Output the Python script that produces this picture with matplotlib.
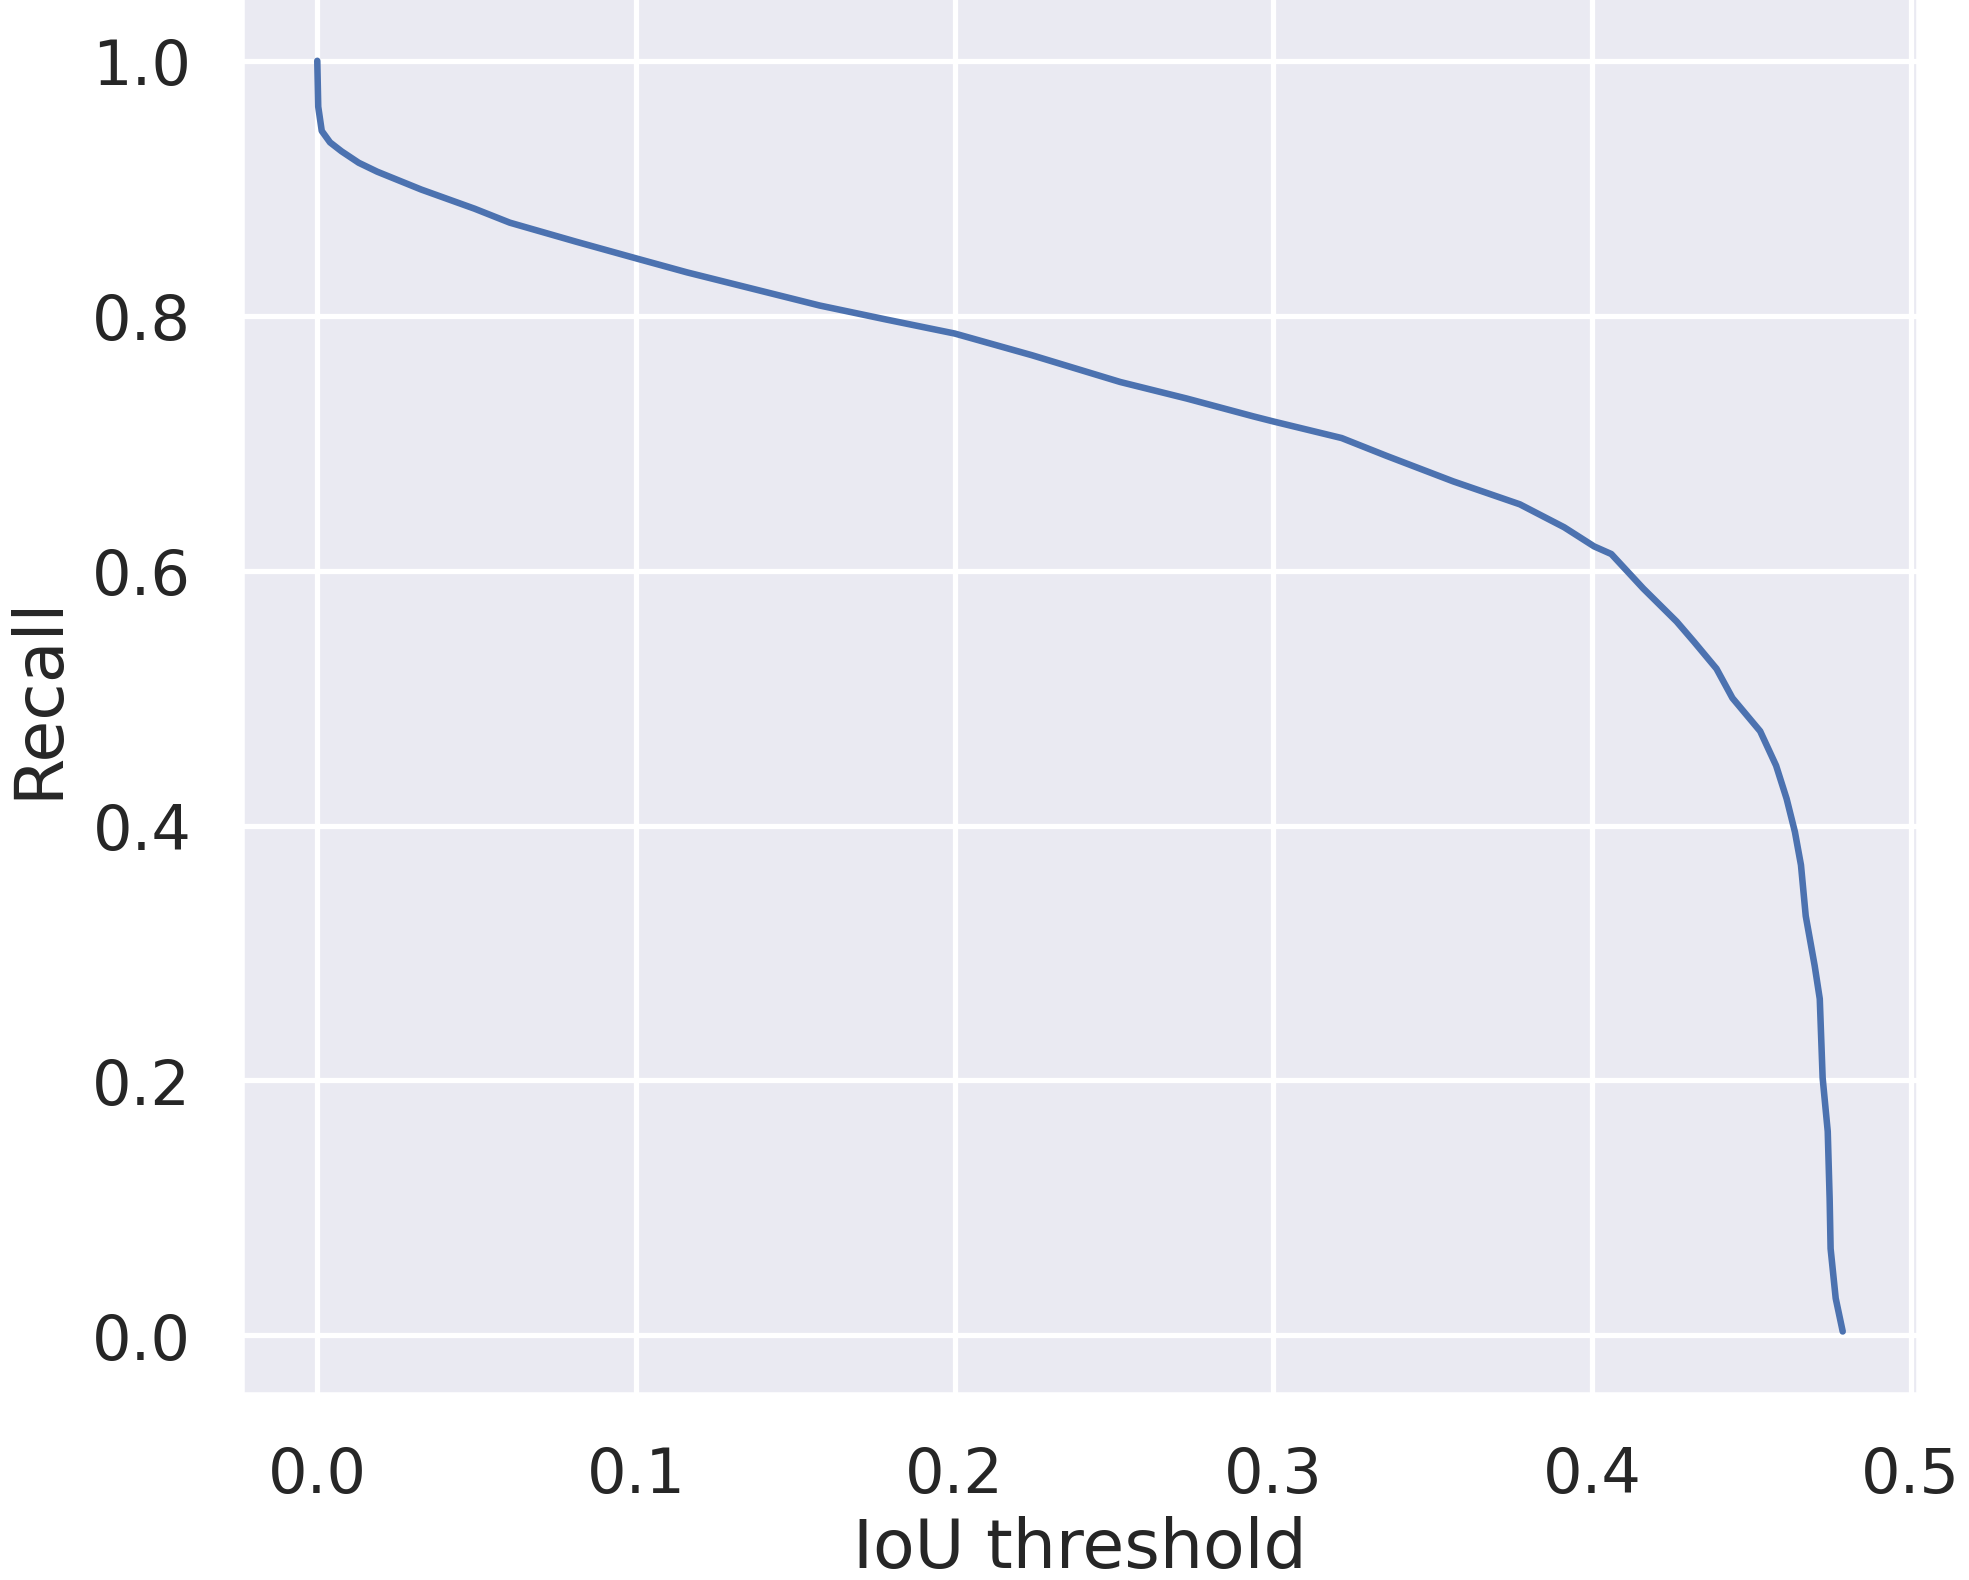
import matplotlib
matplotlib.use('Agg')
import matplotlib.pyplot as plt
import seaborn as sns
import numpy as np

# recall vs IoU threshold curve
iou_threshold = [0.000, 0.0003, 0.0014, 0.0040, 0.0076, 0.0130, 0.0188, 0.0326, 0.0493,
                 0.0604, 0.0813, 0.1000, 0.1160, 0.1368, 0.1576, 0.1785, 0.2000, 0.2242,
                 0.2519, 0.2728, 0.2937, 0.3000, 0.3214, 0.3355, 0.3564, 0.3773, 0.3912,
                 0.4006, 0.4060, 0.4160, 0.4265, 0.4320, 0.4390, 0.4440, 0.4527, 0.4577,
                 0.4610, 0.4636, 0.4655, 0.4670, 0.4698, 0.4714, 0.4723, 0.4739, 0.4745,
                 0.4748, 0.4764, 0.4786]
recall = [1.000, 0.964, 0.945, 0.936, 0.929, 0.920, 0.913, 0.899, 0.884,
          0.873, 0.858, 0.845, 0.834, 0.821, 0.808, 0.797, 0.786, 0.769,
          0.748, 0.735, 0.721, 0.717, 0.704, 0.690, 0.670, 0.652, 0.634,
          0.619, 0.613, 0.586, 0.560, 0.544, 0.523, 0.500, 0.474, 0.447,
          0.421, 0.395, 0.369, 0.329, 0.290, 0.264, 0.202, 0.160, 0.107,
          0.068, 0.029, 0.003]

sns.set_theme(style='darkgrid')
plt.rcParams['font.family'] = ['DejaVu Sans']
plt.rcParams['xtick.labelsize'] = 11.9
plt.rcParams['ytick.labelsize'] = 11.9
plt.rcParams['axes.labelsize'] = 13.0

fig = plt.figure(figsize=(1969/377, 1581/377), dpi=377)
ax = fig.add_axes([0.1224, 0.1170, 0.8522, 0.8841])
ax.plot(iou_threshold, recall, lw=1.25)
ax.set_xlabel('IoU threshold', labelpad=2)
ax.set_ylabel('Recall')
ax.set_xticks(np.arange(0, 0.51, 0.1))
ax.set_yticks(np.arange(0, 1.01, 0.2))

fig.savefig('out.png', dpi=377)
